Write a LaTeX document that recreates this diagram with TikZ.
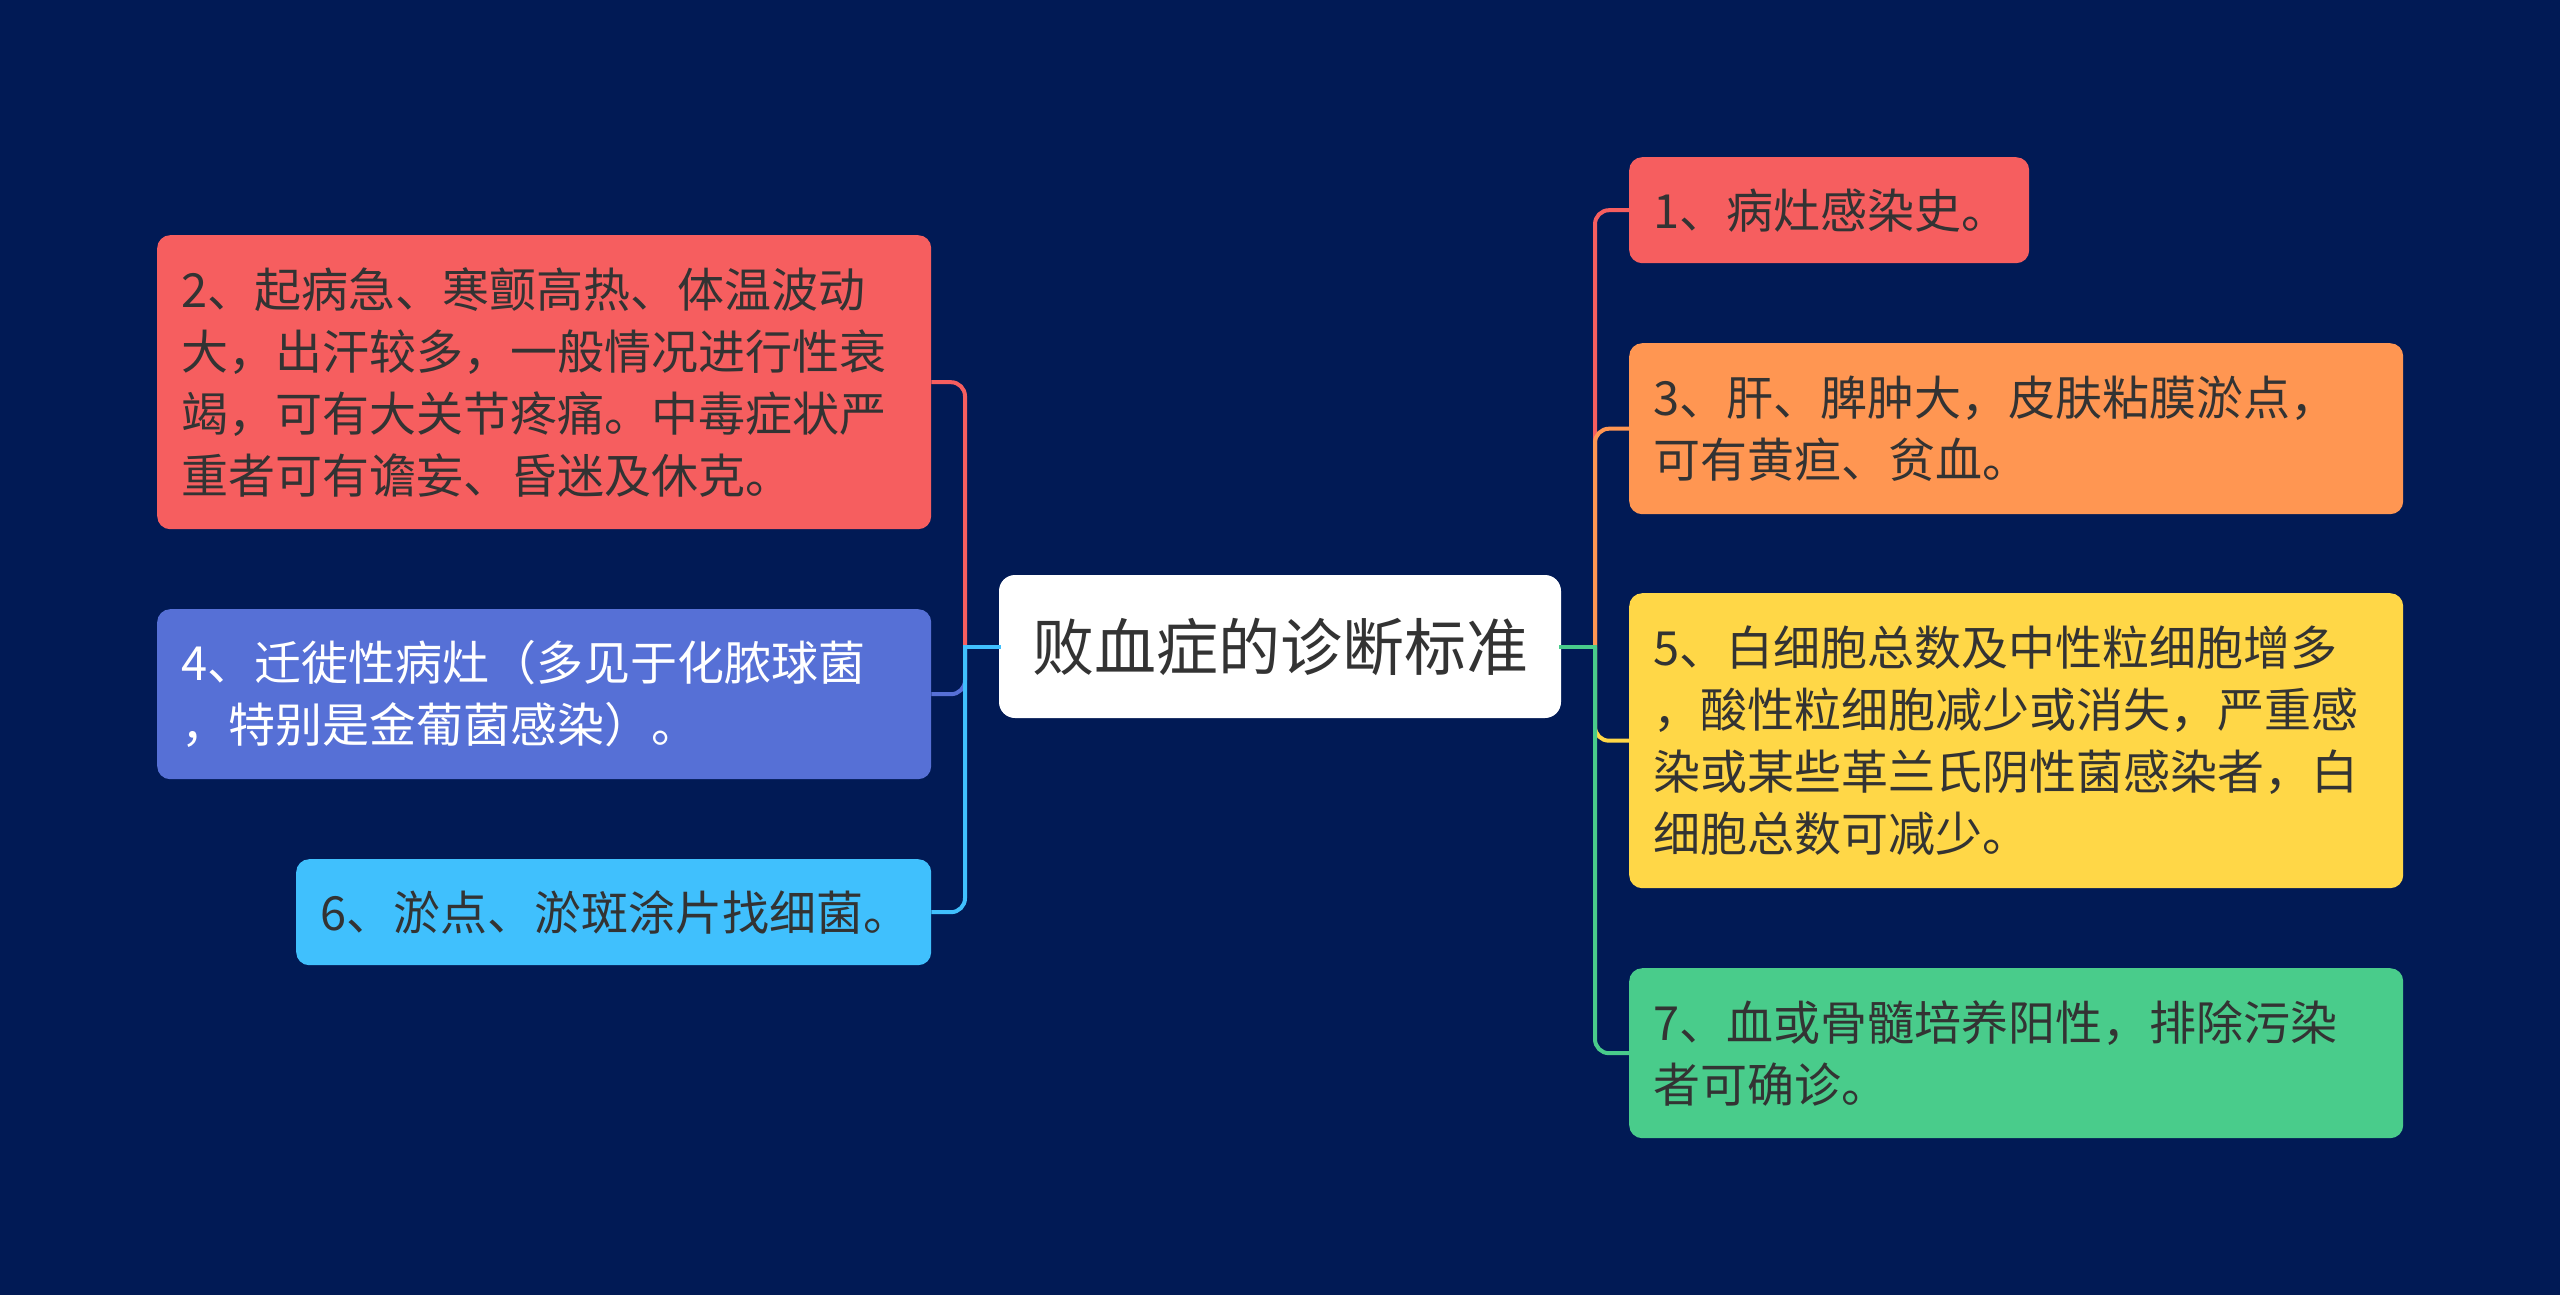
\documentclass[tikz,border=0pt]{standalone}
\usepackage{fontspec}
\setmainfont{Noto Sans CJK SC}
\definecolor{bg}{HTML}{011A55}
\definecolor{cred}{HTML}{F65E5F}
\definecolor{cpurple}{HTML}{5670D6}
\definecolor{cblue}{HTML}{40C0FD}
\definecolor{corange}{HTML}{FF9652}
\definecolor{cyellow}{HTML}{FFD747}
\definecolor{cgreen}{HTML}{49CC8B}
\definecolor{txt}{HTML}{333333}
\tikzset{
  leaf/.style={rounded corners=13pt, anchor=north west, align=left,
    inner xsep=24pt, inner ysep=0pt, text=txt,
    font=\fontsize{47}{62}\selectfont},
  rootbox/.style={rounded corners=16pt, fill=white, text=txt,
    font=\fontsize{62}{70}\selectfont, inner sep=0pt},
  conn/.style={line width=4pt},
}
\begin{document}
\begin{tikzpicture}[x=1pt,y=-1pt]
\fill[bg] (0,0) rectangle (2560,1295);
\useasboundingbox (0,0) rectangle (2560,1295);

\node[rootbox, minimum width=562pt, minimum height=143pt] (c) at (1280,646.5) {败血症的诊断标准};

\node[leaf, fill=cred, text width=726pt, minimum height=294pt] (n2) at (157,235)
  {2、起病急、寒颤高热、体温波动\\大，出汗较多，一般情况进行性衰\\竭，可有大关节疼痛。中毒症状严\\重者可有谵妄、昏迷及休克。};
\node[leaf, fill=cpurple, text=white, text width=726pt, minimum height=170pt] (n4) at (157,609)
  {4、迁徙性病灶（多见于化脓球菌\\，特别是金葡菌感染）。};
\node[leaf, fill=cblue, text width=587pt, minimum height=106pt] (n6) at (296,859)
  {6、淤点、淤斑涂片找细菌。};

\node[leaf, fill=cred, text width=352pt, minimum height=106pt] (n1) at (1629,157)
  {1、病灶感染史。};
\node[leaf, fill=corange, text width=726pt, minimum height=171pt] (n3) at (1629,343)
  {3、肝、脾肿大，皮肤粘膜淤点，\\可有黄疸、贫血。};
\node[leaf, fill=cyellow, text width=726pt, minimum height=295pt] (n5) at (1629,593)
  {5、白细胞总数及中性粒细胞增多\\，酸性粒细胞减少或消失，严重感\\染或某些革兰氏阴性菌感染者，白\\细胞总数可减少。};
\node[leaf, fill=cgreen, text width=726pt, minimum height=170pt] (n7) at (1629,968)
  {7、血或骨髓培养阳性，排除污染\\者可确诊。};

\coordinate (lb) at (965,646.5);
\coordinate (rb) at (1595,646.5);

% left side
\draw[conn, cred, line cap=rect] (c.west) -- (lb);
\draw[conn, cred, rounded corners=14pt] (lb) |- (n2.east);
\draw[conn, cpurple, line cap=rect] (c.west) -- (lb);
\draw[conn, cpurple, rounded corners=14pt] (lb) |- (n4.east);
\draw[conn, cblue, line cap=rect] (c.west) -- (lb);
\draw[conn, cblue, rounded corners=14pt] (lb) |- (n6.east);

% right side
\draw[conn, cred, line cap=rect] (c.east) -- (rb);
\draw[conn, cred, rounded corners=14pt] (rb) |- (n1.west);
\draw[conn, corange, line cap=rect] (c.east) -- (rb);
\draw[conn, corange, rounded corners=14pt] (rb) |- (n3.west);
\draw[conn, cyellow, line cap=rect] (c.east) -- (rb);
\draw[conn, cyellow, rounded corners=14pt] (rb) |- (n5.west);
\draw[conn, cgreen, line cap=rect] (c.east) -- (rb);
\draw[conn, cgreen, rounded corners=14pt] (rb) |- (n7.west);
\end{tikzpicture}
\end{document}
